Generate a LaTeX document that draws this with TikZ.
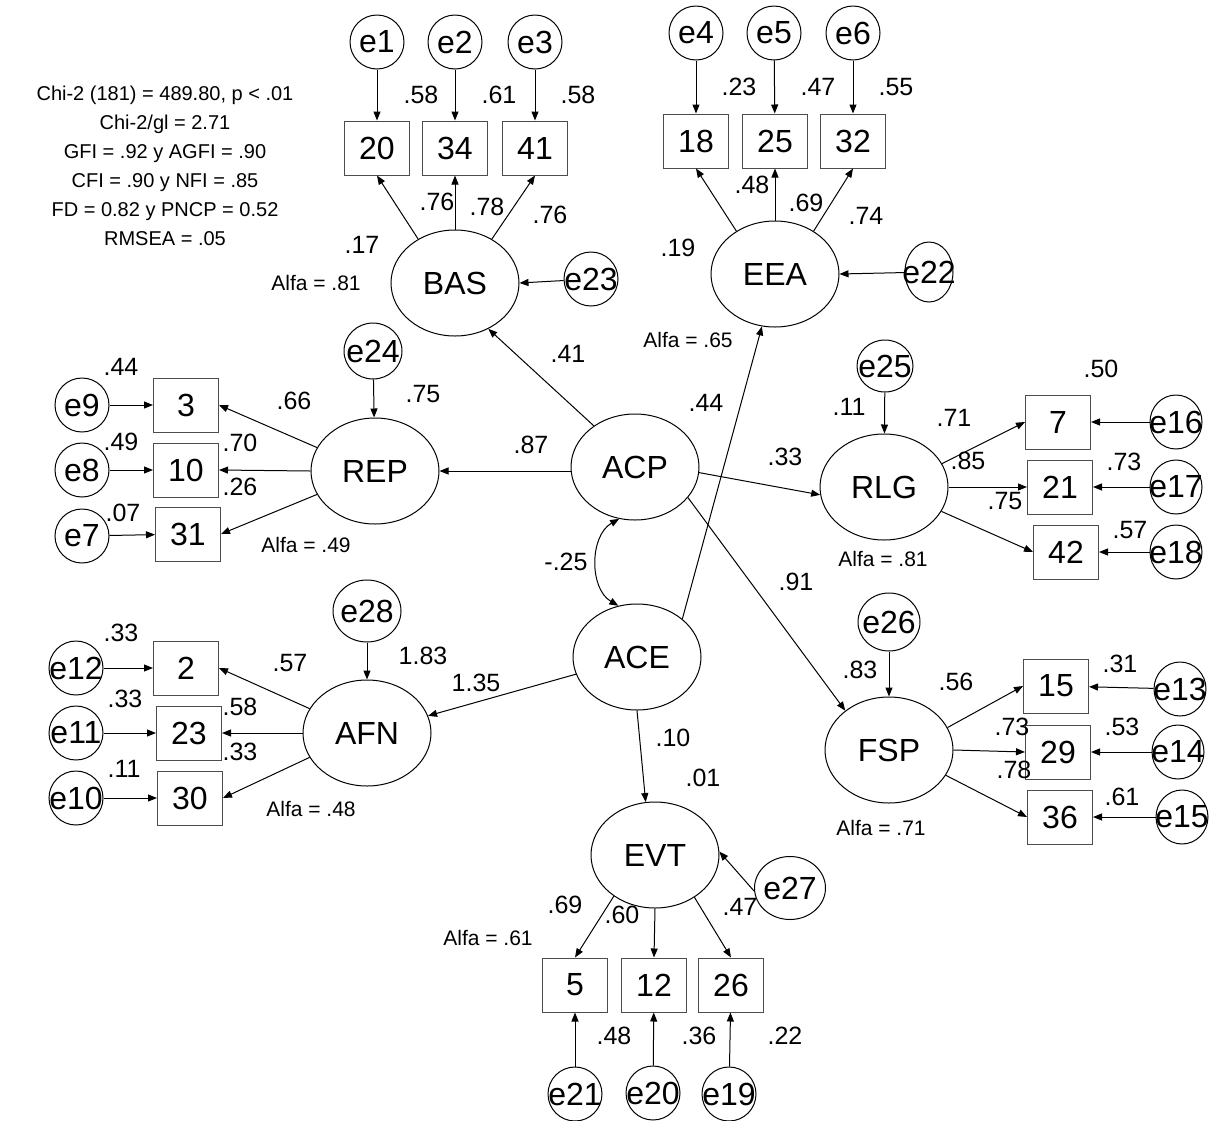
\documentclass[tikz,border=0pt]{standalone}
\usepackage{fontspec}
\setmainfont{Liberation Sans}
\usetikzlibrary{shapes.geometric, arrows.meta}

\begin{document}
\begin{tikzpicture}[x=1pt, y=-1pt, line width=1pt,
  >={Triangle[length=9pt, width=7pt]},
  lat/.style={draw, ellipse, minimum width=128pt, minimum height=106pt, inner sep=0pt, font=\fontsize{32}{36}\selectfont},
  obs/.style={draw=black!70, rectangle, minimum width=65pt, minimum height=54pt, inner sep=0pt, font=\fontsize{32}{36}\selectfont},
  err/.style={draw, ellipse, minimum width=54pt, minimum height=54pt, inner sep=0pt,
    label={[font=\fontsize{32}{36}\selectfont, inner sep=0pt]center:#1}},
  num/.style={font=\fontsize{25}{28}\selectfont, inner sep=0pt},
  alfa/.style={font=\fontsize{21}{24}\selectfont, inner sep=0pt}]
  \useasboundingbox (0,0) rectangle (1211,1120);

  % ---- fit indices ----
  \node[font=\fontsize{20}{29}\selectfont, align=center, inner sep=0pt] (fit) at (165,166)
    {Chi-2 (181) = 489.80, p < .01\\ Chi-2/gl = 2.71\\ GFI = .92 y AGFI = .90\\
     CFI = .90 y NFI = .85\\ FD = 0.82 y PNCP = 0.52\\ RMSEA = .05};

  % ---- latent factors ----
  \node[lat] (BAS) at (455,283) {BAS};
  \node[lat] (EEA) at (775,274) {EEA};
  \node[lat] (REP) at (375,471) {REP};
  \node[lat] (ACP) at (635,467) {ACP};
  \node[lat] (RLG) at (884,487) {RLG};
  \node[lat] (ACE) at (637,657) {ACE};
  \node[lat] (AFN) at (367,733) {AFN};
  \node[lat] (FSP) at (889,750) {FSP};
  \node[lat] (EVT) at (655,855) {EVT};

  % ---- items ----
  \foreach \n/\x/\y in {20/377/148, 34/455/148, 41/535/148,
                        18/696/141, 25/775/141, 32/853/141,
                        3/186/405, 10/186/470, 31/188/534,
                        7/1058/422, 21/1060/487, 42/1066/552,
                        2/186/668, 23/189/733, 30/190/798,
                        15/1056/686, 29/1058/752, 36/1060/817,
                        5/575/985, 12/654/985, 26/731/985} {
    \node[obs] (b\n) at (\x,\y) {\n};
  }

  % ---- errors ----
  \foreach \n/\x/\y in {1/377/42, 2/455/42, 3/535/42,
                        4/696/33, 5/774/33, 6/853/33,
                        23/591/279, 9/82/405, 8/82/470, 7/82/536,
                        12/76/668, 11/76/733, 10/76/798,
                        21/575/1094, 20/653/1093, 19/729/1094} {
    \node[err=e\n] (e\n) at (\x,\y) {};
  }
  \foreach \n/\x/\y in {16/1176/422, 17/1176/487, 18/1176/552,
                        13/1180/689, 14/1178/752, 15/1182/817} {
    \node[err=e\n, minimum width=52pt] (e\n) at (\x,\y) {};
  }
  \node[err=e22, minimum width=48pt, minimum height=60pt] (e22) at (929,272) {};
  \node[err=e24, minimum width=58pt, minimum height=56pt] (e24) at (373,351) {};
  \node[err=e25, minimum width=56pt, minimum height=52pt] (e25) at (885,366) {};
  \node[err=e26, minimum width=62pt, minimum height=58pt] (e26) at (889,622) {};
  \node[err=e27, minimum width=71pt, minimum height=63pt] (e27) at (790,888) {};
  \node[err=e28, minimum width=68pt, minimum height=62pt] (e28) at (367,611) {};

  % ---- structural paths ----
  \draw[->] (ACP.135) -- (BAS.306);
  \draw[->] (ACP.west |- REP) -- (REP.east);
  \draw[->] (ACP.355) -- (RLG.187);
  \draw[->] (ACP.330) -- (FSP.138);
  \draw[->] (ACE.40) -- (EEA.256);
  \draw[->] (ACE) -- (AFN);
  \draw[->] (ACE.south) -- (EVT.100);
  \draw[<->] (ACP.253) to[bend right=60] (ACE.110);

  % ---- loadings ----
  \draw[->] (BAS.130) -- (b20.south);
  \draw[->] (BAS.north) -- (b34.south);
  \draw[->] (BAS.50) -- (b41.south);
  \draw[->] (EEA.132) -- (b18.south);
  \draw[->] (EEA.north) -- (b25.south);
  \draw[->] (EEA.48) -- (b32.south);
  \draw[->] (REP.158) -- (b3.east);
  \draw[->] (REP.west) -- (b10.east);
  \draw[->] (REP.202) -- (b31.east);
  \draw[->] (RLG.22) -- (b7.west);
  \draw[->] (RLG.east) -- (b21.west);
  \draw[->] (RLG.337) -- (b42.west);
  \draw[->] (AFN.157) -- (b2.east);
  \draw[->] (AFN.west) -- (b23.east);
  \draw[->] (AFN.203) -- (b30.east);
  \draw[->] (FSP.21) -- (b15.west);
  \draw[->] (FSP.east) -- (b29.west);
  \draw[->] (FSP.336) -- (b36.west);
  \draw[->] (EVT.225) -- (b5.north);
  \draw[->] (EVT.south) -- (b12.north);
  \draw[->] (EVT.313) -- (b26.north);

  % ---- error paths ----
  \foreach \e/\b in {1/20, 2/34, 3/41, 4/18, 5/25, 6/32, 9/3, 8/10, 7/31,
                     16/7, 17/21, 18/42, 12/2, 11/23, 10/30, 13/15, 14/29, 15/36,
                     21/5, 20/12, 19/26} {
    \draw[->] (e\e) -- (b\b);
  }
  \draw[->] (e23) -- (BAS.east);
  \draw[->] (e22) -- (EEA.east);
  \draw[->] (e24) -- (REP);
  \draw[->] (e25) -- (RLG);
  \draw[->] (e26) -- (FSP);
  \draw[->] (e28) -- (AFN);
  \draw[->] (e27.185) -- (EVT.3);

  % ---- estimates ----
  \foreach \x/\y/\t [count=\i] in {421/95/.58, 499/95/.61, 578/95/.58, 437/202/.76, 487/207/.78,
      550/215/.76, 362/245/.17, 739/87/.23, 818/87/.47, 896/87/.55, 752/185/.48, 806/203/.69,
      866/216/.74, 678/248/.19, 121/367/.44, 121/442/.49, 123/513/.07, 294/401/.66, 240/443/.70,
      240/487/.26, 423/394/.75, 531/445/.87, 568/354/.41, 706/403/.44, 566/562/-.25,
      849/407/.11, 954/418/.71, 968/461/.85, 1005/501/.75, 1124/462/.73, 1130/530/.57,
      785/457/.33, 796/582/.91, 1101/369/.50, 121/633/.33, 125/699/.33, 124/769/.11,
      290/663/.57, 240/707/.58, 240/752/.33, 423/656/1.83, 476/683/1.35, 860/670/.83,
      956/682/.56, 1012/727/.73, 1014/770/.78, 1120/664/.31, 1122/727/.53, 1122/797/.61,
      673/738/.10, 703/778/.01, 565/905/.69, 622/915/.60, 740/907/.47, 614/1036/.48,
      699/1036/.36, 785/1036/.22} {
    \node[num] (w\i) at (\x,\y) {\t};
  }

  % ---- reliabilities ----
  \foreach \x/\y/\t [count=\i] in {316/283/.81, 688/340/.65, 306/545/.49, 883/559/.81,
      311/809/.48, 881/828/.71, 488/938/.61} {
    \node[alfa] (a\i) at (\x,\y) {Alfa = \t};
  }
\end{tikzpicture}
\end{document}
